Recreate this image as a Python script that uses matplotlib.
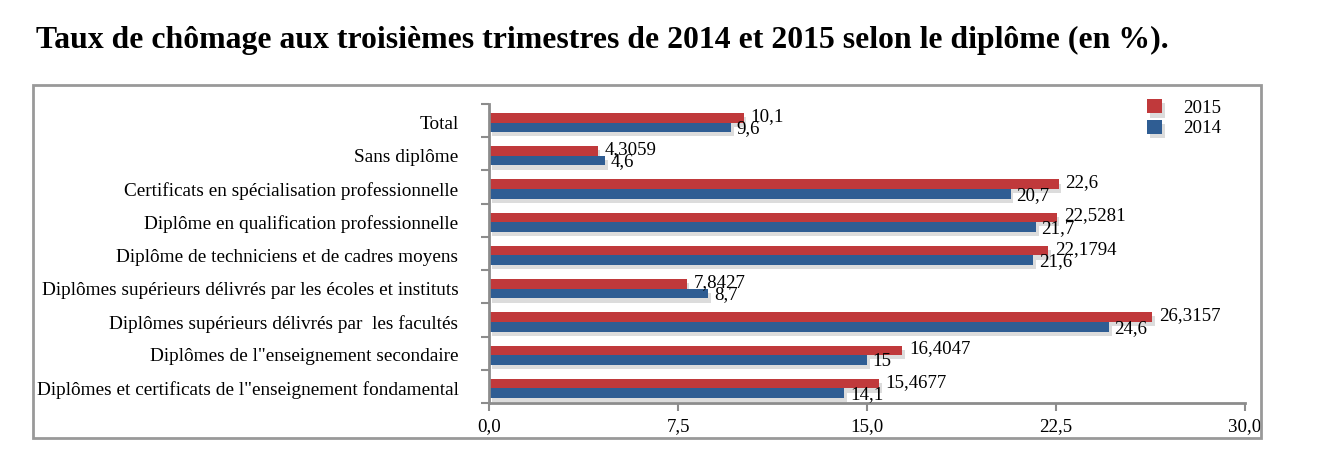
import matplotlib
matplotlib.use("Agg")
import matplotlib.pyplot as plt
import matplotlib.patheffects as pe
from matplotlib.patches import Rectangle
import numpy as np

categories = [
    "Total",
    "Sans diplôme",
    "Certificats en spécialisation professionnelle",
    "Diplôme en qualification professionnelle",
    "Diplôme de techniciens et de cadres moyens",
    "Diplômes supérieurs délivrés par les écoles et instituts",
    "Diplômes supérieurs délivrés par  les facultés",
    "Diplômes de l\"enseignement secondaire",
    "Diplômes et certificats de l\"enseignement fondamental",
]
values_2015 = [10.1, 4.3059, 22.6, 22.5281, 22.1794, 7.8427, 26.3157, 16.4047, 15.4677]
values_2014 = [9.6, 4.6, 20.7, 21.7, 21.6, 8.7, 24.6, 15, 14.1]
xticks = [0, 7.5, 15, 22.5, 30]
xtick_labels = ["0,0", "7,5", "15,0", "22,5", "30,0"]

RED = "#C0393B"
BLUE = "#2F5D93"
GRAY = "#8C8C8C"
FONT = ["Liberation Serif", "DejaVu Serif"]
FS = 13.6

plt.rcParams["font.family"] = FONT

W, H = 1344, 470
fig = plt.figure(figsize=(W / 100, H / 100), dpi=100)

# outer frame
fig.patches.append(Rectangle((33 / W, 1 - 438 / H), (1261 - 33) / W, (438 - 85) / H,
                             transform=fig.transFigure, fill=False,
                             edgecolor="#999999", linewidth=2))

fig.text(36 / W, 1 - 40 / H,
         "Taux de chômage aux troisièmes trimestres de 2014 et 2015 selon le diplôme (en %).",
         fontsize=22.9, fontweight="bold", va="center", ha="left", family=FONT)

ax = fig.add_axes([489 / W, 1 - 403 / H, (1245 - 489) / W, (403 - 104) / H])
n = len(categories)
y = np.arange(n)
bh = 0.29
off = 0.06
shadow = [pe.SimplePatchShadow(offset=(2, -3), shadow_rgbFace="#bbbbbb", alpha=0.5), pe.Normal()]
b1 = ax.barh(y - bh / 2 + off, values_2015, height=bh, color=RED, label="2015", path_effects=shadow)
b2 = ax.barh(y + bh / 2 + off, values_2014, height=bh, color=BLUE, label="2014", path_effects=shadow)

def fmt(v):
    return f"{v:g}".replace(".", ",")

for yi, v in zip(y, values_2015):
    ax.annotate(fmt(v), (v, yi - bh / 2 + off), xytext=(5, 1), textcoords="offset points",
                ha="left", va="center", fontsize=FS)
for yi, v in zip(y, values_2014):
    ax.annotate(fmt(v), (v, yi + bh / 2 + off), xytext=(4, -1), textcoords="offset points",
                ha="left", va="center", fontsize=FS)

ax.set_ylim(n - 0.5, -0.5)
ax.set_xlim(0, 30)
ax.set_xticks(xticks)
ax.set_xticklabels(xtick_labels, fontsize=FS)
ax.set_yticks(y + 0.05)
ax.set_yticklabels(categories, fontsize=13.9)
ax.set_yticks(np.arange(n + 1) - 0.5, minor=True)
ax.tick_params(axis="y", which="major", length=0, pad=22)
ax.tick_params(axis="y", which="minor", length=6, width=1.5, color=GRAY, direction="out")
ax.tick_params(axis="x", which="major", length=6, width=1.5, color=GRAY, direction="out", pad=5)
for s in ["top", "right"]:
    ax.spines[s].set_visible(False)
for s in ["left", "bottom"]:
    ax.spines[s].set_color(GRAY)
    ax.spines[s].set_linewidth(2)

leg = fig.legend(handles=[b1, b2], labels=["2015", "2014"], loc="upper left",
                 bbox_to_anchor=(1130 / W, 1 - 82 / H), frameon=False, fontsize=FS,
                 handlelength=0.8, handleheight=0.8, handletextpad=1.1, labelspacing=0.15)

fig.savefig("out.png", dpi=100)
